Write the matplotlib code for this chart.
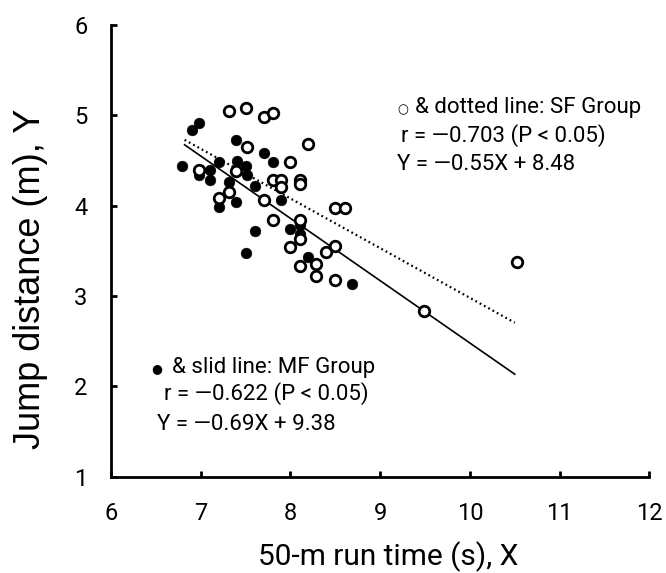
import matplotlib
matplotlib.use("Agg")
import matplotlib.pyplot as plt
import numpy as np

# MF group (filled circles)
mf_run = [6.79, 6.90, 6.98, 7.20, 7.39, 7.71, 7.80, 7.40, 7.50, 7.10, 6.98, 7.10, 7.31,
          7.51, 7.60, 7.39, 7.20, 7.90, 7.60, 7.50, 8.00, 8.11, 8.11, 8.20, 8.69]
mf_jump = [4.44, 4.84, 4.92, 4.48, 4.73, 4.58, 4.48, 4.49, 4.44, 4.39, 4.34, 4.28, 4.26,
           4.34, 4.22, 4.04, 3.99, 4.06, 3.72, 3.48, 3.74, 3.79, 3.69, 3.43, 3.13]

# SF group (open circles)
sf_run = [7.31, 7.50, 7.71, 7.80, 7.51, 8.20, 8.00, 6.98, 7.39, 7.80, 7.90, 7.90, 8.11,
          8.11, 7.31, 7.20, 7.71, 8.50, 8.61, 7.80, 8.11, 8.11, 8.00, 8.50, 8.40, 8.29,
          8.11, 8.29, 8.50, 9.49, 10.52]
sf_jump = [5.05, 5.08, 4.98, 5.03, 4.65, 4.68, 4.48, 4.39, 4.38, 4.28, 4.28, 4.21, 4.29,
           4.24, 4.15, 4.08, 4.06, 3.98, 3.98, 3.84, 3.84, 3.63, 3.54, 3.55, 3.49, 3.36,
           3.33, 3.22, 3.18, 2.83, 3.38]

# regression lines (slope, intercept) and x range drawn
mf_fit = (-0.69, 9.38)
sf_fit = (-0.55, 8.48)
fit_range = [6.82, 10.5]

xticks = [6, 7, 8, 9, 10, 11, 12]
yticks = [1, 2, 3, 4, 5, 6]

fig = plt.figure(figsize=(6.66, 5.73), dpi=100)
ax = fig.add_axes([0.1667, 0.168, 0.8083, 0.7883])

xs = np.array(fit_range)
ax.plot(xs, mf_fit[0] * xs + mf_fit[1], color="black", lw=1.2, zorder=2)
ax.plot(xs, sf_fit[0] * xs + sf_fit[1], color="black", lw=1.6, ls=(0, (0.8, 1.4)), zorder=2)

ax.plot(mf_run, mf_jump, "o", ms=7.8, mfc="black", mec="black", mew=0.3, ls="none", zorder=3)
ax.plot(sf_run, sf_jump, "o", ms=7.6, mfc="white", mec="black", mew=2.0, ls="none", zorder=4)

ax.set_xlim(6, 12)
ax.set_ylim(1, 6)
ax.set_xticks(xticks)
ax.set_yticks(yticks)
for s in ["top", "right"]:
    ax.spines[s].set_visible(False)
for s in ["left", "bottom"]:
    ax.spines[s].set_linewidth(2.0)
ax.tick_params(direction="in", length=4, width=2.0, labelsize=17)
ax.tick_params(axis="x", pad=18)
ax.tick_params(axis="y", pad=17)
for lab in ax.get_xticklabels() + ax.get_yticklabels():
    lab.set_family(["Roboto", "DejaVu Sans"])

ax.set_xlabel("50-m run time (s), X", fontsize=21.5, family=["Roboto", "DejaVu Sans"])
ax.xaxis.set_label_coords(0.5146, -0.142)
ax.set_ylabel("Jump distance (m), Y", fontsize=26, family=["Liberation Sans", "DejaVu Sans"])
ax.yaxis.set_label_coords(-0.117, 0.4377)

txt_font = ["Roboto", "DejaVu Sans"]
W, H = 666.0, 573.0

def put(px, py, s, size=16):
    fig.text(px / W, 1 - py / H, s, fontsize=size, family=txt_font, va="center", ha="left")

# SF annotation
put(397, 110, "\u25CB", size=9)
put(415, 108, "& dotted line: SF Group")
put(401, 136, "r = \u20140.703 (P < 0.05)")
put(397, 165, "Y = \u20140.55X + 8.48")

# MF annotation
put(151, 369, "\u25CF", size=9)
put(172, 367, "& slid line: MF Group")
put(164, 394, "r = \u20140.622 (P < 0.05)")
put(157, 424, "Y = \u20140.69X + 9.38")

fig.savefig("out.png", dpi=100)
